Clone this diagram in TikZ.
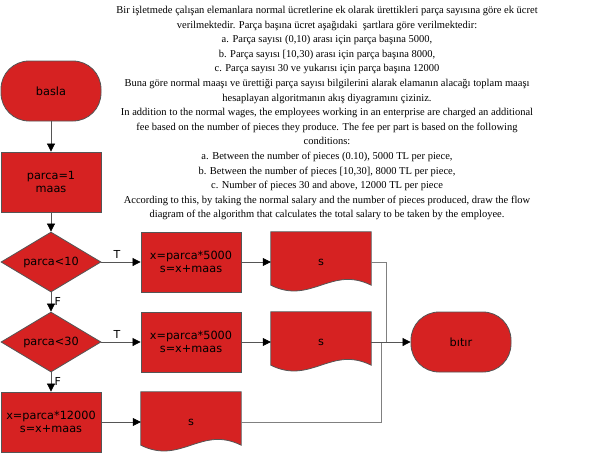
\documentclass[tikz,border=0pt]{standalone}
\usepackage{fontspec}
\setmainfont{Liberation Serif}
\newfontfamily\flowfont{DejaVu Sans}
\usetikzlibrary{shapes.geometric,arrows.meta}
\definecolor{flowred}{RGB}{214,34,34}
\definecolor{edgegray}{RGB}{85,85,85}
\definecolor{wiregray}{RGB}{128,128,128}
\tikzset{
  base/.style={draw=edgegray,fill=flowred,line width=0.8pt,font=\flowfont\fontsize{11.3}{13.5}\selectfont,align=center,inner sep=0pt},
  terminal/.style={base,rectangle,rounded corners=28pt,minimum width=100pt,minimum height=60pt},
  process/.style={base,rectangle,minimum width=100pt,minimum height=60pt},
  decision/.style={base,diamond,aspect=1.667,minimum width=100pt,minimum height=60pt},
  docbox/.style={rectangle,minimum width=100pt,minimum height=60pt,inner sep=0pt,font=\flowfont\fontsize{11.3}{13.5}\selectfont},
  flow/.style={draw=edgegray,line width=0.7pt,-{Triangle[length=8pt,width=8pt,black]}},
  wire/.style={draw=wiregray,line width=0.7pt},
  tag/.style={font=\flowfont\fontsize{11}{13}\selectfont}
}
\begin{document}
\begin{tikzpicture}[x=1pt,y=-1pt]
    \useasboundingbox (0,0) rectangle (610,456);
    %task text
    \node[anchor=north,align=center,font=\fontsize{10.5}{14.6}\selectfont,inner sep=0pt] (task) at (327,6)
      {Bir işletmede çalışan elemanlara normal ücretlerine ek olarak ürettikleri parça sayısına göre ek ücret\\
       verilmektedir. Parça başına ücret aşağıdaki \ şartlara göre verilmektedir:\\
       a. Parça sayısı (0,10) arası için parça başına 5000,\\
       b. Parça sayısı [10,30) arası için parça başına 8000,\\
       c. Parça sayısı 30 ve yukarısı için parça başına 12000\\
       Buna göre normal maaşı ve ürettiği parça sayısı bilgilerini alarak elamanın alacağı toplam maaşı\\
       hesaplayan algoritmanın akış diyagramını çiziniz.\\
       In addition to the normal wages, the employees working in an enterprise are charged an additional\\
       fee based on the number of pieces they produce. The fee per part is based on the following\\
       conditions:\\
       a. Between the number of pieces (0.10), 5000 TL per piece,\\
       b. Between the number of pieces [10,30], 8000 TL per piece,\\
       c. Number of pieces 30 and above, 12000 TL per piece\\
       According to this, by taking the normal salary and the number of pieces produced, draw the flow\\
       diagram of the algorithm that calculates the total salary to be taken by the employee.};
    %flowchart nodes
    \node[terminal] (basla) at (51,91) {basla};
    \node[process] (init) at (51,182) {parca=1\\maas};
    \node[decision] (lt10) at (51,262) {parca<10};
    \node[decision] (lt30) at (51,342) {parca<30};
    \node[process] (calc1) at (191,262) {x=parca*5000\\s=x+maas};
    \node[process] (calc2) at (191,342) {x=parca*5000\\s=x+maas};
    \node[process] (calc3) at (51,422) {x=parca*12000\\s=x+maas};
    \node[docbox] (out1) at (321,262) {};
    \node[docbox] (out2) at (321,342) {};
    \node[docbox] (out3) at (191,422) {};
    \foreach \d in {out1,out2,out3}{
      \draw[draw=edgegray,fill=flowred,line width=0.8pt] (\d.north west) -- (\d.north east)
        -- ([yshift=7pt]\d.south east) .. controls ([shift={(-40pt,27pt)}]\d.south east) and ([shift={(40pt,-13pt)}]\d.south west) .. ([yshift=7pt]\d.south west) -- cycle;
      \node[docbox] at (\d) {s};
    }
    \node[terminal] (bitir) at (461,342) {bıtır};
    \coordinate (j1) at (386,342);
    \coordinate (j3) at (381,342);
    %connectors
    \draw[flow] (basla) -- (init);
    \draw[flow] (init) -- (lt10);
    \draw[flow] (lt10) -- node[tag,right,pos=0.45] {F} (lt30);
    \draw[flow] (lt30) -- node[tag,right,pos=0.45] {F} (calc3);
    \draw[flow] (lt10) -- node[tag,above,pos=0.4] {T} (calc1);
    \draw[flow] (lt30) -- node[tag,above,pos=0.4] {T} (calc2);
    \draw[flow] (calc1) -- (out1);
    \draw[flow] (calc2) -- (out2);
    \draw[flow] (calc3) -- (out3);
    \draw[wire] (out1.east) -| (j1);
    \draw[wire] (out3.east) -| (j3);
    \draw[flow] (out2.east) -- (bitir.west);
\end{tikzpicture}
\end{document}
